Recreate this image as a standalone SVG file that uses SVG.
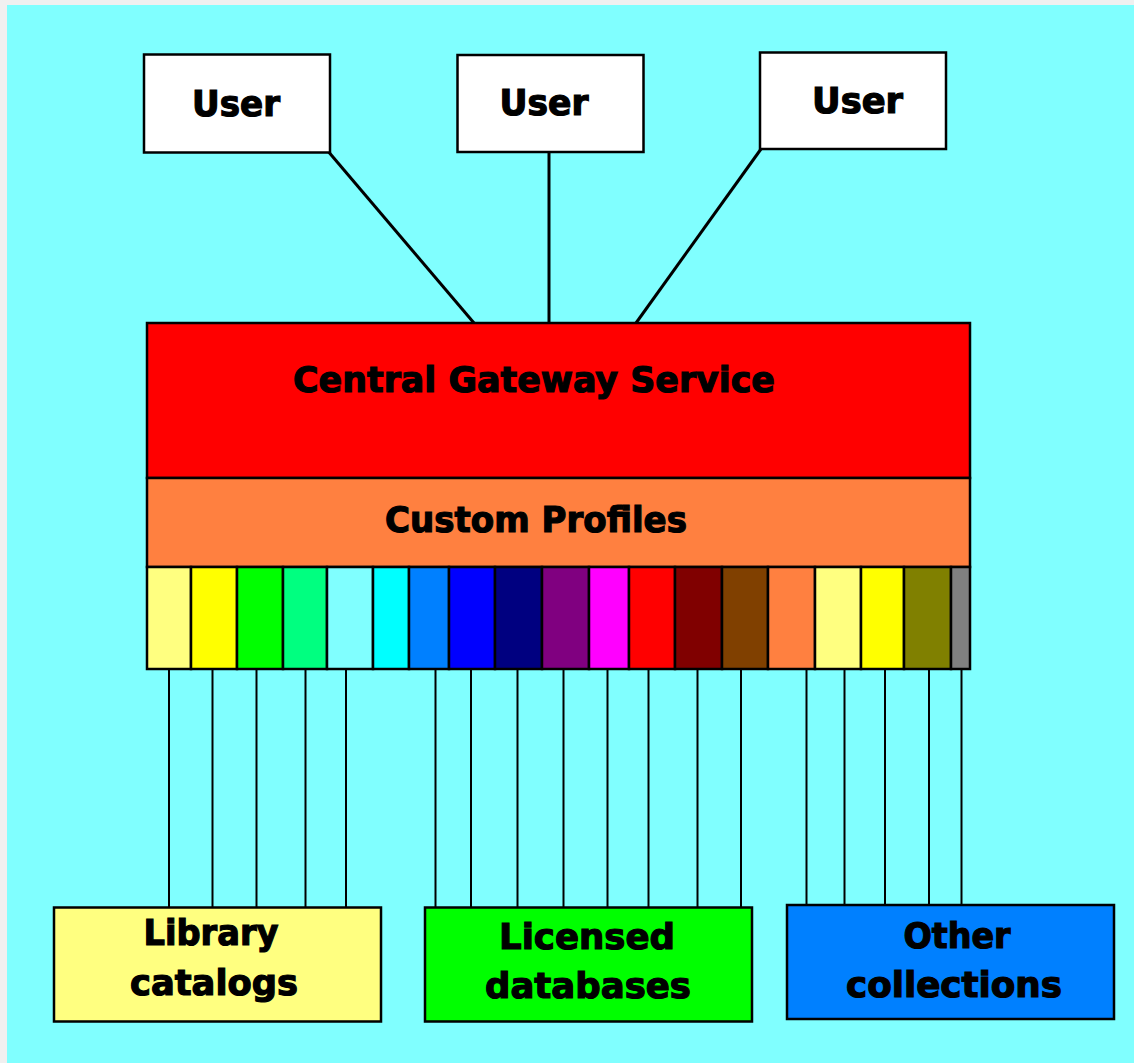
<svg xmlns="http://www.w3.org/2000/svg" width="1134" height="1063" viewBox="0 0 1134 1063">
<style>
.box{stroke:#000;stroke-width:2.5}
.t{font-family:"DejaVu Sans","Liberation Sans",sans-serif;font-weight:bold;font-size:35px;fill:#000;stroke:#000;stroke-width:1.2;text-anchor:middle}
.c{stroke:#000;stroke-width:3;fill:none}
.d{stroke:#000;stroke-width:2;fill:none}
.seg{stroke:#000;stroke-width:2.5}
</style>
<rect x="0" y="0" width="1134" height="1063" fill="#f0f0f0"/>
<rect x="7" y="5" width="1127" height="1058" fill="#80ffff"/>

<g id="connectors">
<line class="c" x1="327" y1="150" x2="474" y2="323"/>
<line class="c" x1="549" y1="152" x2="549" y2="323"/>
<line class="c" x1="761" y1="149" x2="636" y2="323"/>
<line class="d" x1="169" y1="669" x2="169" y2="908"/>
<line class="d" x1="212.5" y1="669" x2="212.5" y2="908"/>
<line class="d" x1="256.5" y1="669" x2="256.5" y2="908"/>
<line class="d" x1="305.5" y1="669" x2="305.5" y2="908"/>
<line class="d" x1="346" y1="669" x2="346" y2="908"/>
<line class="d" x1="435.5" y1="669" x2="435.5" y2="908"/>
<line class="d" x1="471" y1="669" x2="471" y2="908"/>
<line class="d" x1="517.5" y1="669" x2="517.5" y2="908"/>
<line class="d" x1="563.5" y1="669" x2="563.5" y2="908"/>
<line class="d" x1="607.5" y1="669" x2="607.5" y2="908"/>
<line class="d" x1="648.5" y1="669" x2="648.5" y2="908"/>
<line class="d" x1="697.5" y1="669" x2="697.5" y2="908"/>
<line class="d" x1="741" y1="669" x2="741" y2="908"/>
<line class="d" x1="806.5" y1="669" x2="806.5" y2="905"/>
<line class="d" x1="844.5" y1="669" x2="844.5" y2="905"/>
<line class="d" x1="885" y1="669" x2="885" y2="905"/>
<line class="d" x1="929" y1="669" x2="929" y2="905"/>
<line class="d" x1="961.5" y1="669" x2="961.5" y2="905"/>
</g>

<g id="user1">
<rect class="box" x="144" y="54.5" width="186" height="98" fill="#fff"/>
<text class="t" x="236" y="115.5" textLength="88" lengthAdjust="spacingAndGlyphs">User</text>
</g>
<g id="user2">
<rect class="box" x="457.5" y="55" width="186" height="97" fill="#fff"/>
<text class="t" x="544" y="115" textLength="89" lengthAdjust="spacingAndGlyphs">User</text>
</g>
<g id="user3">
<rect class="box" x="760" y="52.5" width="186" height="96.5" fill="#fff"/>
<text class="t" x="857.5" y="112.5" textLength="91" lengthAdjust="spacingAndGlyphs">User</text>
</g>

<g id="gateway">
<rect class="box" x="147" y="323" width="823" height="155" fill="#ff0000"/>
<text class="t" x="534" y="391.5" textLength="482" lengthAdjust="spacingAndGlyphs">Central Gateway Service</text>
</g>
<g id="profiles">
<rect class="box" x="147" y="478" width="823" height="89" fill="#ff8040"/>
<text class="t" x="536" y="531.5" textLength="302" lengthAdjust="spacingAndGlyphs">Custom Profiles</text>
</g>

<g id="strip">
<rect class="seg" x="147" y="567" width="44" height="102" fill="#ffff80"/>
<rect class="seg" x="191" y="567" width="46" height="102" fill="#ffff00"/>
<rect class="seg" x="237" y="567" width="46" height="102" fill="#00ff00"/>
<rect class="seg" x="283" y="567" width="44" height="102" fill="#00ff80"/>
<rect class="seg" x="327" y="567" width="46" height="102" fill="#80ffff"/>
<rect class="seg" x="373" y="567" width="36" height="102" fill="#00ffff"/>
<rect class="seg" x="409" y="567" width="40" height="102" fill="#0080ff"/>
<rect class="seg" x="449" y="567" width="46" height="102" fill="#0000ff"/>
<rect class="seg" x="495" y="567" width="47" height="102" fill="#000080"/>
<rect class="seg" x="542" y="567" width="47" height="102" fill="#800080"/>
<rect class="seg" x="589" y="567" width="40" height="102" fill="#ff00ff"/>
<rect class="seg" x="629" y="567" width="46" height="102" fill="#ff0000"/>
<rect class="seg" x="675" y="567" width="47" height="102" fill="#800000"/>
<rect class="seg" x="722" y="567" width="46" height="102" fill="#804000"/>
<rect class="seg" x="768" y="567" width="47" height="102" fill="#ff8040"/>
<rect class="seg" x="815" y="567" width="46" height="102" fill="#ffff80"/>
<rect class="seg" x="861" y="567" width="43" height="102" fill="#ffff00"/>
<rect class="seg" x="904" y="567" width="47" height="102" fill="#808000"/>
<rect class="seg" x="951" y="567" width="19" height="102" fill="#808080"/>
</g>

<g id="library">
<rect class="box" x="54" y="907.5" width="327" height="114" fill="#ffff80"/>
<text class="t" x="211" y="945" textLength="135" lengthAdjust="spacingAndGlyphs">Library</text>
<text class="t" x="214" y="995" textLength="168" lengthAdjust="spacingAndGlyphs">catalogs</text>
</g>
<g id="licensed">
<rect class="box" x="425" y="907.5" width="327" height="114" fill="#00ff00"/>
<text class="t" x="587" y="949" textLength="176" lengthAdjust="spacingAndGlyphs">Licensed</text>
<text class="t" x="588" y="997.5" textLength="206" lengthAdjust="spacingAndGlyphs">databases</text>
</g>
<g id="other">
<rect class="box" x="787" y="905" width="327" height="114" fill="#0080ff"/>
<text class="t" x="957" y="948" textLength="107" lengthAdjust="spacingAndGlyphs">Other</text>
<text class="t" x="954" y="997" textLength="216" lengthAdjust="spacingAndGlyphs">collections</text>
</g>
</svg>
